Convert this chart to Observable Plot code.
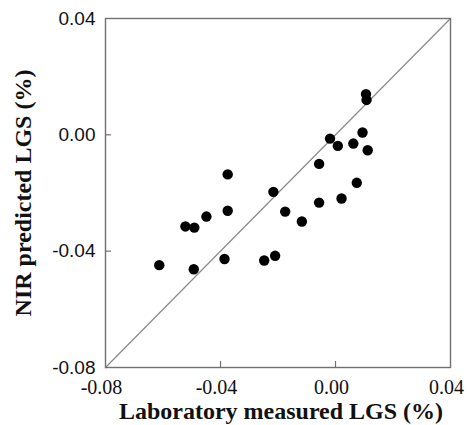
<!DOCTYPE html>
<html>
<head>
<meta charset="utf-8">
<script src="https://cdn.jsdelivr.net/npm/d3@7"></script>
<script src="https://cdn.jsdelivr.net/npm/@observablehq/plot@0.6"></script>
<style>
  html, body { margin: 0; padding: 0; background: #fff; }
  svg { display: block; }
</style>
</head>
<body>
<div id="chart"></div>
<script>
const measured = [-0.0613, -0.0493, -0.0522, -0.0491, -0.0449, -0.0375, -0.0375, -0.0386,
  -0.0248, -0.0210, -0.0216, -0.0175, -0.0117, -0.0057, -0.0057, -0.0019, 0.0008, 0.0021,
  0.0062, 0.0074, 0.0094, 0.0112, 0.0106, 0.0108];
const predicted = [-0.0448, -0.0462, -0.0315, -0.0319, -0.0281, -0.0136, -0.0261, -0.0427,
  -0.0432, -0.0416, -0.0196, -0.0264, -0.0298, -0.0100, -0.0233, -0.0013, -0.0038, -0.0219,
  -0.0030, -0.0165, 0.0008, -0.0053, 0.0140, 0.0120];
const axisDomain = [-0.08, 0.04];
const tickValues = [-0.08, -0.04, 0.00, 0.04];
const innerTicks = [-0.04, 0.00];
const xTitle = "Laboratory measured LGS (%)";
const yTitle = "NIR predicted LGS (%)";

const points = measured.map((m, i) => ({m, p: predicted[i]}));
const diagonal = axisDomain.map(v => ({v}));
const fmt = d => d.toFixed(2);
const serif = "'Liberation Serif', 'Times New Roman', serif";
const sans = "'Liberation Sans', Arial, sans-serif";

const chart = Plot.plot({
  width: 467,
  height: 425,
  marginLeft: 105,
  marginRight: 17,
  marginTop: 18,
  marginBottom: 58,
  x: {domain: axisDomain},
  y: {domain: axisDomain},
  style: {background: "#fff"},
  marks: [
    Plot.line(diagonal, {x: "v", y: "v", stroke: "#8a8a8a", strokeWidth: 1.2}),
    Plot.frame({stroke: "#707070", strokeWidth: 1.4}),
    Plot.axisX(innerTicks, {tickSize: 6, dy: -6, tickFormat: () => "", stroke: "#707070", strokeWidth: 1.2}),
    Plot.axisY(innerTicks, {tickSize: 6, dx: 6, tickFormat: () => "", stroke: "#707070", strokeWidth: 1.2}),
    Plot.axisX(tickValues, {tickSize: 0, tickPadding: 12, dx: -4, tickFormat: fmt, fontSize: 20, fontFamily: serif, fill: "#111", label: null}),
    Plot.axisY(tickValues, {tickSize: 0, tickPadding: 10, tickFormat: fmt, fontSize: 19, fontFamily: sans, fill: "#111", label: null}),
    Plot.dot(points, {x: "m", y: "p", r: 5.2, fill: "#000", stroke: null}),
    Plot.text([xTitle], {frameAnchor: "bottom", lineAnchor: "bottom", dy: 51, dx: 3, fontSize: 24, fontWeight: "bold", fontFamily: serif, fill: "#111"}),
    Plot.text([yTitle], {frameAnchor: "left", textAnchor: "middle", lineAnchor: "middle", rotate: -90, dx: -82, fontSize: 24, fontWeight: "bold", fontFamily: serif, fill: "#111"})
  ]
});
document.getElementById("chart").appendChild(chart);
</script>
</body>
</html>
